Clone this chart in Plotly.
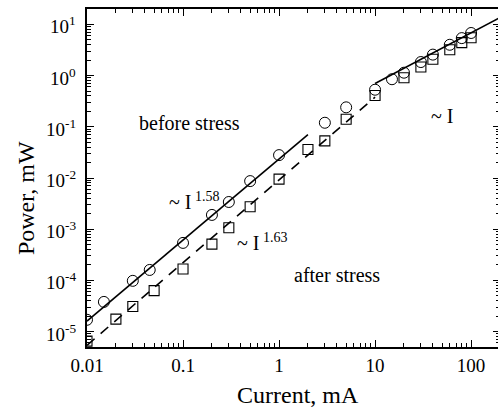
import numpy as np
import plotly.graph_objects as go

# ---- data ----
before_x = [0.01, 0.015, 0.03, 0.045, 0.1, 0.2, 0.3, 0.5, 1, 3, 5, 10, 15, 20, 30, 40, 60, 80, 100]
before_y = [1.7e-5, 3.8e-5, 9.8e-5, 1.6e-4, 5.4e-4, 1.9e-3, 3.4e-3, 8.7e-3, 0.028, 0.12, 0.24,
            0.53, 0.85, 1.14, 1.84, 2.57, 4.0, 5.4, 6.8]
after_x = [0.01, 0.02, 0.03, 0.05, 0.1, 0.2, 0.3, 0.5, 1, 2, 3, 5, 10, 20, 30, 40, 60, 80, 100]
after_y = [6.5e-6, 1.75e-5, 3.1e-5, 6.3e-5, 1.67e-4, 5.1e-4, 1.07e-3, 2.75e-3, 9.5e-3, 0.036,
           0.053, 0.14, 0.41, 0.91, 1.47, 2.08, 3.2, 4.4, 5.5]

fit_before_x = [0.01, 2.0]
fit_before_y = [1.6e-5, 0.070]
fit_after_x = [0.01, 10]
fit_after_y = [5.4e-6, 0.38]
fit_linear_x = [10, 200]
fit_linear_y = [0.70, 13.6]

x_tickvals = [0.01, 0.1, 1, 10, 100]
x_ticktext = ["0.01", "0.1", "1", "10", "100"]
y_tickvals = [1e-5, 1e-4, 1e-3, 1e-2, 1e-1, 1, 10]
y_ticktext = ["10<sup>-5</sup>", "10<sup>-4</sup>", "10<sup>-3</sup>", "10<sup>-2</sup>",
              "10<sup>-1</sup>", "10<sup>0</sup>", "10<sup>1</sup>"]

FONT = "Liberation Serif"

x_minor = [m * 10.0 ** e for e in range(-2, 3) for m in range(2, 10)]
y_minor = [m * 10.0 ** e for e in range(-6, 2) for m in range(2, 10)]

fig = go.Figure()
fig.add_trace(go.Scatter(x=fit_before_x, y=fit_before_y, mode="lines",
                         line=dict(color="black", width=1.6), showlegend=False))
fig.add_trace(go.Scatter(x=fit_after_x, y=fit_after_y, mode="lines",
                         line=dict(color="black", width=1.6, dash="10px,8px"), showlegend=False))
fig.add_trace(go.Scatter(x=fit_linear_x, y=fit_linear_y, mode="lines",
                         line=dict(color="black", width=1.6), showlegend=False))
fig.add_trace(go.Scatter(x=before_x, y=before_y, mode="markers",
                         marker=dict(symbol="circle-open", size=11, color="black",
                                     line=dict(width=1, color="black")), showlegend=False))
fig.add_trace(go.Scatter(x=after_x, y=after_y, mode="markers",
                         marker=dict(symbol="square-open", size=10, color="black",
                                     line=dict(width=1.1, color="black")), showlegend=False))

axis_common = dict(type="log", showgrid=False, zeroline=False, showline=True,
                   linecolor="black", linewidth=1.6, mirror="allticks",
                   ticks="inside", ticklen=7, tickwidth=1, tickcolor="black",
                   tickfont=dict(family=FONT, size=19, color="black"))

fig.update_xaxes(range=[-2, np.log10(200)], tickmode="array", tickvals=x_tickvals,
                 ticktext=x_ticktext, ticklabelstandoff=0,
                 minor=dict(ticks="inside", ticklen=4, tickwidth=1, tickcolor="black",
                            tickmode="array", tickvals=x_minor, showgrid=False),
                 **axis_common)
fig.update_yaxes(range=[np.log10(5e-6), np.log10(20)], tickmode="array", tickvals=y_tickvals,
                 showticklabels=False,
                 minor=dict(ticks="inside", ticklen=4, tickwidth=1, tickcolor="black",
                            tickmode="array", tickvals=y_minor, showgrid=False),
                 **axis_common)

# y tick labels placed as text next to the axis
for v, t in zip(y_tickvals, y_ticktext):
    fig.add_annotation(xref="paper", yref="y", x=0, y=np.log10(v), text=t,
                       showarrow=False, xanchor="right", yanchor="middle",
                       xshift=-9, yshift=-1,
                       font=dict(family=FONT, size=19, color="black"))

ann_font = dict(family=FONT, size=20, color="black")
annotations = [
    dict(x=-0.933, y=-0.934, text="before stress"),
    dict(x=0.601, y=-3.90, text="after stress"),
    dict(x=1.70, y=-0.797, text="~ I"),
    dict(x=-0.881, y=-2.44, text="~ I<sup> 1.58</sup>"),
    dict(x=-0.176, y=-3.258, text="~ I<sup> 1.63</sup>"),
]
for a in annotations:
    fig.add_annotation(xref="x", yref="y", showarrow=False, font=ann_font,
                       xanchor="center", yanchor="middle", **a)

fig.add_annotation(xref="paper", yref="paper", x=-0.149, y=0.442, text="Power, mW",
                   textangle=-90, showarrow=False, xanchor="center", yanchor="middle",
                   font=dict(family=FONT, size=24, color="black"))
fig.add_annotation(xref="paper", yref="paper", x=0.511, y=-0.141, text="Current, mA",
                   showarrow=False, xanchor="center", yanchor="middle",
                   font=dict(family=FONT, size=24, color="black"))

fig.update_layout(width=502, height=415, margin=dict(l=87, r=0, t=9, b=68),
                  paper_bgcolor="white", plot_bgcolor="white",
                  font=dict(family=FONT))

fig.write_html("out.html", post_script=(
    "document.body.style.overflow='hidden';"
    "document.documentElement.style.overflow='hidden';"
    "document.body.style.margin='0';"))
